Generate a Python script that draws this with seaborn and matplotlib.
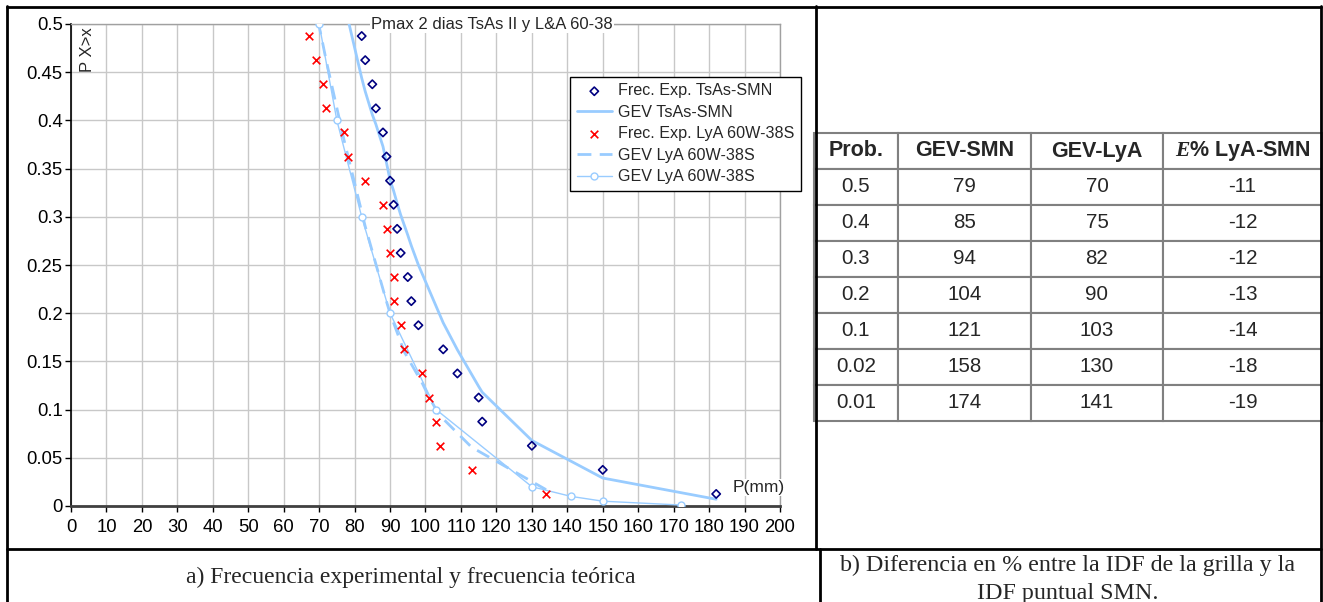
import matplotlib
matplotlib.use("Agg")
import matplotlib.pyplot as plt
import seaborn as sns
from matplotlib.lines import Line2D

# experimental exceedance probabilities (plotting positions)
prob_exp = [0.4875, 0.4625, 0.4375, 0.4125, 0.3875, 0.3625, 0.3375, 0.3125, 0.2875, 0.2625,
            0.2375, 0.2125, 0.1875, 0.1625, 0.1375, 0.1125, 0.0875, 0.0625, 0.0375, 0.0125]
tsas_exp = [82, 83, 85, 86, 88, 89, 90, 91, 92, 93, 95, 96, 98, 105, 109, 115, 116, 130, 150, 182]
lya_exp = [67, 69, 71, 72, 77, 78, 83, 88, 89, 90, 91, 91, 93, 94, 99, 101, 103, 104, 113, 134]

# fitted GEV curves
gev_tsas_x = [78, 82, 83, 85, 86, 88, 89, 90, 91, 92, 93, 95, 96, 98, 105, 109, 115, 116, 130, 150, 182]
gev_tsas_y = [0.507, 0.444, 0.43, 0.406, 0.396, 0.373, 0.356, 0.338, 0.327, 0.314, 0.302, 0.281,
              0.27, 0.25, 0.19, 0.162, 0.124, 0.118, 0.068, 0.029, 0.007]
gev_lya_dash_x = lya_exp
gev_lya_dash_y = [0.55, 0.515, 0.48, 0.462, 0.38, 0.365, 0.29, 0.225, 0.212, 0.2, 0.19, 0.19,
                  0.17, 0.16, 0.128, 0.113, 0.1, 0.094, 0.061, 0.017]
gev_lya_x = [70, 75, 82, 90, 103, 130, 141, 150, 172]
gev_lya_y = [0.5, 0.4, 0.3, 0.2, 0.1, 0.02, 0.01, 0.005, 0.001]

# table b)
table_header = ["Prob.", "GEV-SMN", "GEV-LyA", r"$\mathit{E}$% LyA-SMN"]
table_prob = ["0.5", "0.4", "0.3", "0.2", "0.1", "0.02", "0.01"]
table_smn = [79, 85, 94, 104, 121, 158, 174]
table_lya = [70, 75, 82, 90, 103, 130, 141]
table_err = [-11, -12, -12, -13, -14, -18, -19]

sns.set_theme(style="white")
plt.rcParams['font.family'] = ['Liberation Sans', 'DejaVu Sans']
plt.rcParams['mathtext.fontset'] = 'custom'
plt.rcParams['mathtext.it'] = 'Liberation Serif:italic:bold'

W, H = 1323, 602
fig = plt.figure(figsize=(W / 100, H / 100), dpi=100)


def fx(px):
    return px / W


def fy(py):
    return 1 - py / H


light = '#99ccff'

ax = fig.add_axes([fx(71), fy(506), fx(780) - fx(71), fy(24) - fy(506)])
sns.scatterplot(x=tsas_exp, y=prob_exp, marker='D', s=18, color='#000080', facecolor='none',
                edgecolor='#000080', linewidth=1.2, label="Frec. Exp. TsAs-SMN", ax=ax, zorder=4)
sns.lineplot(x=gev_tsas_x, y=gev_tsas_y, sort=False, estimator=None, color=light, linewidth=2.0,
             label="GEV TsAs-SMN", ax=ax, zorder=3)
sns.scatterplot(x=lya_exp, y=prob_exp, marker='x', s=30, color='red', linewidth=1.2,
                label="Frec. Exp. LyA 60W-38S", ax=ax, zorder=4)
sns.lineplot(x=gev_lya_dash_x, y=gev_lya_dash_y, sort=False, estimator=None, color=light,
             linewidth=2.0, linestyle=(0, (5, 3)), label="GEV LyA 60W-38S", ax=ax, zorder=3)
sns.lineplot(x=gev_lya_x, y=gev_lya_y, sort=False, estimator=None, color=light, linewidth=1.0,
             marker='o', markersize=5, markerfacecolor='white', markeredgecolor=light,
             markeredgewidth=1.0, label="GEV LyA 60W-38S", ax=ax, zorder=3)

ax.set_xlim(0, 200)
ax.set_ylim(0, 0.5)
ax.set_xticks(range(0, 201, 10))
yt = [0, 0.05, 0.1, 0.15, 0.2, 0.25, 0.3, 0.35, 0.4, 0.45, 0.5]
ax.set_yticks(yt)
ax.set_yticklabels([f"{v:g}" for v in yt])
ax.grid(True, color='#c8c8c8', linewidth=1)
ax.set_axisbelow(True)
ax.tick_params(axis='both', direction='out', length=4, width=1, color='black',
               labelsize=13.3, labelcolor='black', left=True, bottom=True)
ax.tick_params(axis='y', pad=2)
ax.tick_params(axis='x', pad=5)
ax.spines['left'].set_color('black')
ax.spines['left'].set_linewidth(1.2)
ax.spines['bottom'].set_color('#404040')
ax.spines['bottom'].set_linewidth(2)
for s in ['top', 'right']:
    ax.spines[s].set_color('#a0a0a0')
    ax.spines[s].set_linewidth(1)
ax.set_xlabel("")
ax.set_ylabel("")

ax.text(118.8, 0.5, "Pmax 2 dias TsAs II y L&A 60-38", ha='center', va='center', fontsize=12,
        bbox=dict(fc='white', ec='none', pad=1), zorder=6, clip_on=False)
ax.text(4.6, 0.497, "P X>x", rotation=90, ha='center', va='top', fontsize=12, zorder=6)
ax.text(186.5, 0.019, "P(mm)", ha='left', va='center', fontsize=12.5,
        bbox=dict(fc='white', ec='none', pad=0.5), zorder=6)

leg = ax.legend(loc='upper left', bbox_to_anchor=(0.704, 0.890), frameon=True, fancybox=False,
                edgecolor='black', framealpha=1, fontsize=11.6, borderpad=0.4, labelspacing=0.4,
                handlelength=2.2, handletextpad=0.4, borderaxespad=0)
leg.get_frame().set_linewidth(1.0)
leg.set_zorder(7)

# table
tax = fig.add_axes([fx(814), fy(421), fx(1322) - fx(814), fy(133) - fy(421)])
tax.axis('off')
rows = [[p, str(a), str(b), str(e)] for p, a, b, e in zip(table_prob, table_smn, table_lya, table_err)]
widths = [84, 133, 132, 159]
tot = sum(widths)
tbl = tax.table(cellText=rows, colLabels=table_header, bbox=[0, 0, 1, 1], cellLoc='center',
                colWidths=[w / tot for w in widths])
tbl.auto_set_font_size(False)
tbl.set_fontsize(14.8)
for (r, c), cell in tbl.get_celld().items():
    cell.set_edgecolor('#808080')
    cell.set_linewidth(1.5)
    if r == 0:
        cell.get_text().set_fontweight('bold')
        cell.get_text().set_fontsize(15.5)

# frame lines of the layout
frame = [((7, 1321), (6.5, 6.5)), ((7, 7), (6, 602)), ((1321, 1321), (6, 602)),
         ((815.5, 815.5), (6, 549)), ((820, 820), (549, 602)), ((7, 1321), (549, 549))]
for xs, ys in frame:
    fig.add_artist(Line2D([fx(xs[0]), fx(xs[1])], [fy(ys[0]), fy(ys[1])], color='black', lw=2))

serif = ['Liberation Serif', 'DejaVu Serif']
fig.text(fx(411), fy(577), "a) Frecuencia experimental y frecuencia teórica", ha='center',
         va='center', family=serif, fontsize=17)
fig.text(fx(1068), fy(565), "b) Diferencia en % entre la IDF de la grilla y la", ha='center',
         va='center', family=serif, fontsize=17.3)
fig.text(fx(1068), fy(593), "IDF puntual SMN.", ha='center', va='center', family=serif,
         fontsize=17.3)

fig.savefig("out.png", dpi=100)
